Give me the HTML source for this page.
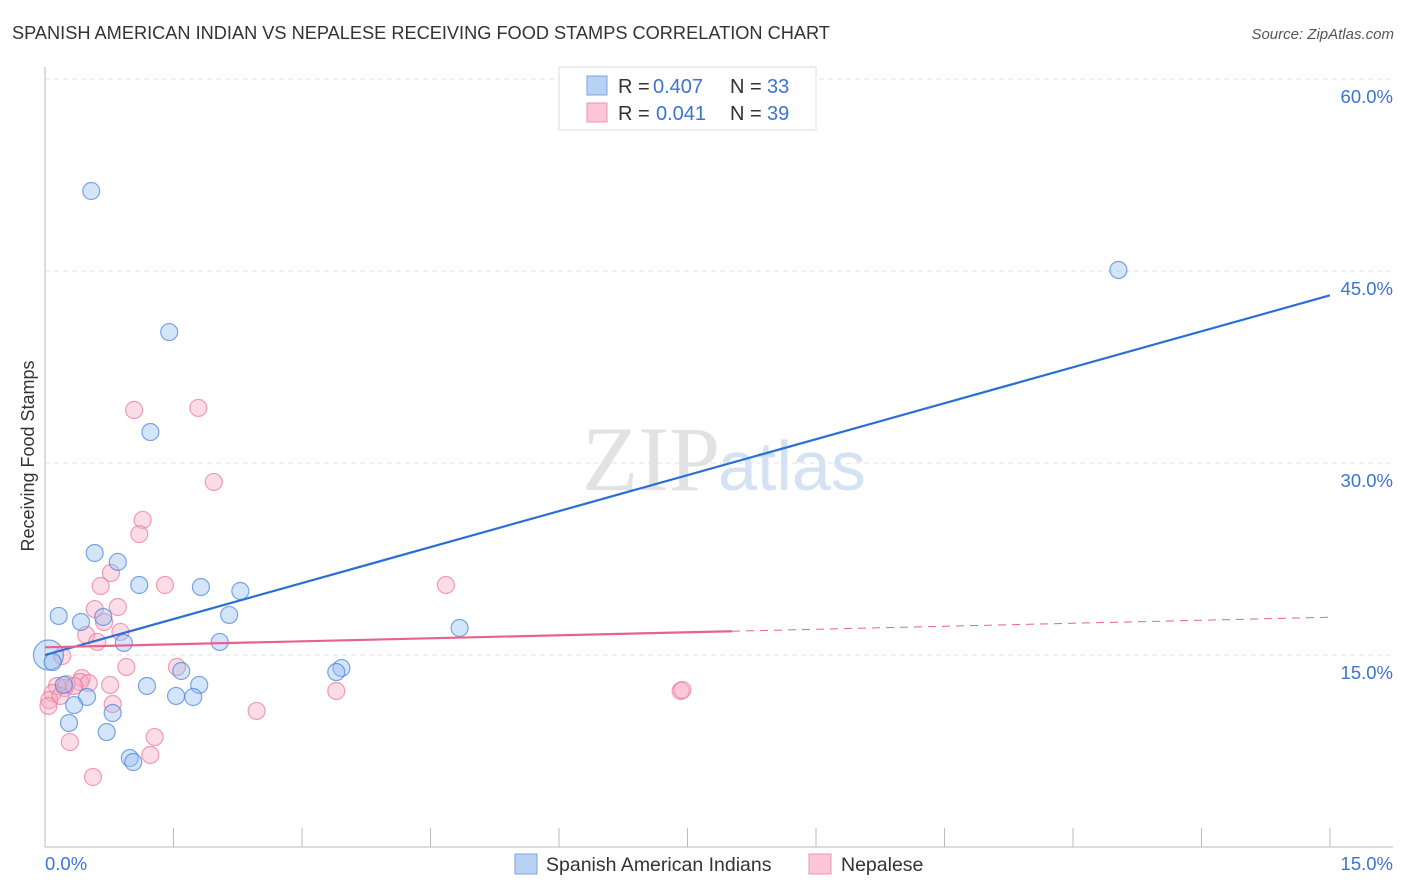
<!DOCTYPE html>
<html><head><meta charset="utf-8"><style>
body{margin:0;background:#fff;font-family:"Liberation Sans",sans-serif;}
svg{display:block}
</style></head><body>
<svg id="chart" width="1406" height="892" xmlns="http://www.w3.org/2000/svg">
<text x="12" y="39" font-size="18.2" fill="#333">SPANISH AMERICAN INDIAN VS NEPALESE RECEIVING FOOD STAMPS CORRELATION CHART</text>
<text x="1394" y="39" font-size="15" fill="#555" font-style="italic" text-anchor="end">Source: ZipAtlas.com</text>
<text x="720" y="490" font-size="92" fill="#e2e2e2" font-family="Liberation Serif,serif" text-anchor="end">ZIP</text>
<text x="718" y="490" font-size="70" fill="#d4e2f4">atlas</text>
<g id="grid"></g>
<g id="axes"></g>
<g id="marks"></g>
<text transform="translate(34,456) rotate(-90)" font-size="18" fill="#333" text-anchor="middle">Receiving Food Stamps</text>
<g>
<rect x="559" y="67" width="257" height="63" fill="#fff" stroke="#ddd"/>
<rect x="587" y="76" width="20" height="19" fill="#b8d2f4" stroke="#7aa6e0"/>
<rect x="587" y="103" width="20" height="19" fill="#fbc7d6" stroke="#ef93ae"/>
<text x="618" y="93" font-size="20" fill="#333">R =</text>
<text x="653" y="93" font-size="20" fill="#3b74d4">0.407</text>
<text x="730" y="93" font-size="20" fill="#333">N =</text>
<text x="767" y="93" font-size="20" fill="#3b74d4">33</text>
<text x="618" y="120" font-size="20" fill="#333">R =</text>
<text x="656" y="120" font-size="20" fill="#3b74d4">0.041</text>
<text x="730" y="120" font-size="20" fill="#333">N =</text>
<text x="767" y="120" font-size="20" fill="#3b74d4">39</text>
</g>
<g>
<rect x="515" y="854" width="22" height="20" fill="#b8d2f4" stroke="#7aa6e0"/>
<text x="546" y="871" font-size="19.5" fill="#333">Spanish American Indians</text>
<rect x="809" y="854" width="22" height="20" fill="#fbc7d6" stroke="#ef93ae"/>
<text x="841" y="871" font-size="19.5" fill="#333">Nepalese</text>
</g>
</svg>
<script>
const yTicks=[15,30,45,60];
const yTickLabels=["15.0%","30.0%","45.0%","60.0%"];
const blueX=[.54,1.45,1.23,12.53,.58,.85,1.10,1.82,2.28,.16,.42,.68,2.15,.92,2.04,4.84,.04,.09,3.46,3.40,1.59,1.19,1.80,.22,1.53,1.73,.49,.34,.79,.28,.72,.99,1.03];
const blueY=[51.25,40.23,32.42,45.08,22.97,22.27,20.47,20.31,20.0,18.05,17.58,17.97,18.13,15.94,16.02,17.11,15.0,14.45,13.98,13.67,13.75,12.58,12.66,12.66,11.80,11.72,11.72,11.09,10.47,9.69,8.98,6.95,6.64];
const pinkX=[1.04,1.79,1.97,1.14,1.10,.77,.65,1.40,4.68,.58,.85,.69,.88,.48,.61,.95,1.54,.20,.43,.41,.51,.76,.23,.14,.09,.05,.04,3.40,7.42,7.44,.79,2.47,1.28,.29,1.23,.56,.25,.34,.18];
const pinkY=[34.14,34.30,28.52,25.55,24.45,21.41,20.39,20.47,20.47,18.59,18.75,17.58,16.80,16.56,16.02,14.06,14.06,14.92,13.20,12.89,12.81,12.66,12.42,12.58,12.03,11.48,11.02,12.19,12.19,12.27,11.17,10.63,8.59,8.20,7.19,5.47,12.73,12.58,11.80];
const blueLine=[15.0,43.1];
const pinkLine=[15.6,17.95];
const pinkSolidEnd=8.02;
const X0=45,X1=1330,Y0=847,PPY=12.8;
const sx=v=>X0+v/15*(X1-X0);
const sy=v=>Y0-v*PPY;
const NS="http://www.w3.org/2000/svg";
function mk(tag,attrs,parent){const e=document.createElementNS(NS,tag);for(const k in attrs)e.setAttribute(k,attrs[k]);document.getElementById(parent).appendChild(e);return e;}
yTicks.forEach((t,i)=>{
 const g=mk('line',{x1:45,x2:1393,y1:sy(t),y2:sy(t),stroke:'#e0e0e0','stroke-dasharray':'5,4'},'grid');
 
 
 const l=mk('text',{x:1393,y:sy(t)+24,'font-size':18.5,fill:'#3b74d4','text-anchor':'end'},'grid');
 l.textContent=yTickLabels[i];
 
 
});
mk('line',{x1:45,x2:45,y1:67,y2:847,stroke:'#bbb'},'axes');
mk('line',{x1:45,x2:1393,y1:847,y2:847,stroke:'#bbb'},'axes');
for(let i=0;i<=10;i++){const t=mk('line',{x1:sx(i*1.5),x2:sx(i*1.5),y1:828,y2:847,stroke:'#bbb'},'axes');
 
 }
let xl=mk('text',{x:45,y:870,'font-size':18.5,fill:'#3b74d4'},'axes');xl.textContent='0.0%';


xl=mk('text',{x:1393,y:870,'font-size':18.5,fill:'#3b74d4','text-anchor':'end'},'axes');xl.textContent='15.0%';


pinkX.forEach((x,i)=>{const c=mk('circle',{cx:sx(x),cy:sy(pinkY[i]),r:8.5,fill:'rgba(248,170,195,0.4)',stroke:'rgba(234,120,155,0.7)','stroke-width':1.2},'marks');
 
 });
blueX.forEach((x,i)=>{const c=mk('circle',{cx:sx(x),cy:sy(blueY[i]),r:i==16?15:8.5,fill:'rgba(150,190,240,0.4)',stroke:'rgba(70,130,215,0.7)','stroke-width':1.2},'marks');
 
 });
let ln=mk('line',{x1:sx(0),y1:sy(blueLine[0]),x2:sx(15),y2:sy(blueLine[1]),stroke:'#2a6fd6','stroke-width':2.2},'marks');


const pAt=x=>pinkLine[0]+(pinkLine[1]-pinkLine[0])*x/15;
ln=mk('line',{x1:sx(0),y1:sy(pAt(0)),x2:sx(pinkSolidEnd),y2:sy(pAt(pinkSolidEnd)),stroke:'#e8628c','stroke-width':2.2},'marks');


ln=mk('line',{x1:sx(pinkSolidEnd),y1:sy(pAt(pinkSolidEnd)),x2:sx(15),y2:sy(pAt(15)),stroke:'#e8628c','stroke-width':1,'stroke-dasharray':'8,6'},'marks');


</script>
</body></html>
